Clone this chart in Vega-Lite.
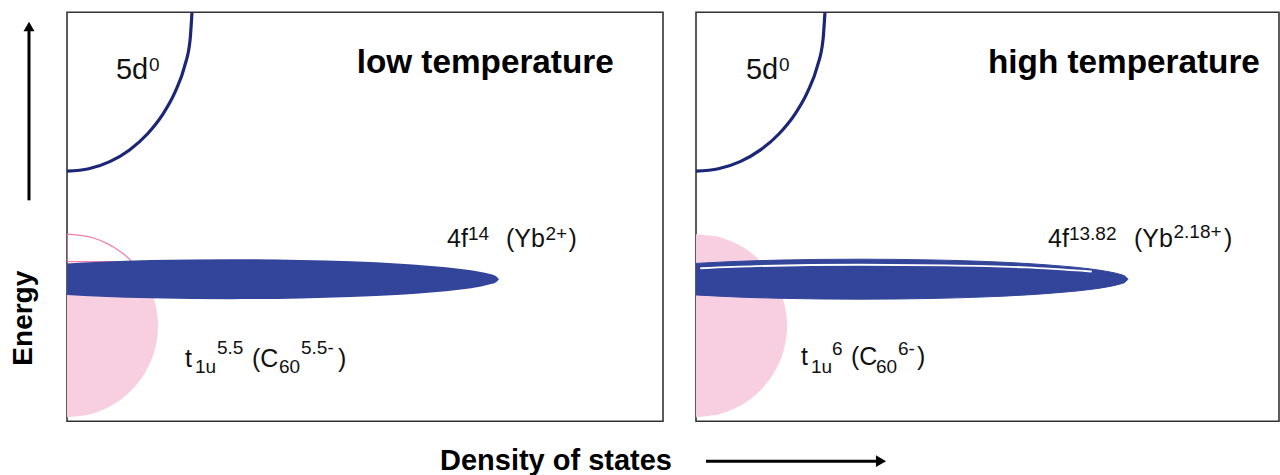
{
  "$schema": "https://vega.github.io/schema/vega-lite/v6.json",
  "background": "white",
  "padding": {"left": 8, "top": 11.2, "right": 0, "bottom": 0},
  "spacing": 33,
  "bounds": "flush",
  "config": {
    "view": {"stroke": "#333333", "strokeWidth": 1.6},
    "font": "Liberation Sans"
  },
  "datasets": {
    "curve": [
      {"panel": "L", "d": 0, "e": 61.12},
      {"panel": "L", "d": 3.64, "e": 61.71},
      {"panel": "L", "d": 7.17, "e": 63.46},
      {"panel": "L", "d": 10.49, "e": 66.33},
      {"panel": "L", "d": 13.48, "e": 70.22},
      {"panel": "L", "d": 16.06, "e": 75.01},
      {"panel": "L", "d": 18.16, "e": 80.56},
      {"panel": "L", "d": 19.71, "e": 86.7},
      {"panel": "L", "d": 20.65, "e": 93.25},
      {"panel": "L", "d": 20.97, "e": 100},
      {"panel": "R", "d": 0, "e": 61.12},
      {"panel": "R", "d": 3.76, "e": 61.71},
      {"panel": "R", "d": 7.4, "e": 63.46},
      {"panel": "R", "d": 10.82, "e": 66.33},
      {"panel": "R", "d": 13.91, "e": 70.22},
      {"panel": "R", "d": 16.58, "e": 75.01},
      {"panel": "R", "d": 18.74, "e": 80.56},
      {"panel": "R", "d": 20.34, "e": 86.7},
      {"panel": "R", "d": 21.31, "e": 93.25},
      {"panel": "R", "d": 21.64, "e": 100}
    ],
    "band": [
      {"d": 0, "e": 30.86, "e2": 38.58},
      {"d": 5.7, "e": 30.44, "e2": 39.0},
      {"d": 14.09, "e": 30.05, "e2": 39.39},
      {"d": 27.52, "e": 29.83, "e2": 39.61},
      {"d": 39.26, "e": 30.0, "e2": 39.44},
      {"d": 47.65, "e": 30.34, "e2": 39.1},
      {"d": 56.04, "e": 30.93, "e2": 38.51},
      {"d": 61.07, "e": 31.47, "e2": 37.97},
      {"d": 66.11, "e": 32.2, "e2": 37.24},
      {"d": 69.46, "e": 32.96, "e2": 36.48},
      {"d": 71.14, "e": 33.53, "e2": 35.91},
      {"d": 71.98, "e": 33.99, "e2": 35.45},
      {"d": 72.48, "e": 34.72, "e2": 34.72}
    ],
    "t1u": [
      {"e": 0.98, "d": 0},
      {"e": 1.43, "d": 3.04},
      {"e": 2.1, "d": 4.77},
      {"e": 3.22, "d": 6.66},
      {"e": 5.45, "d": 9.16},
      {"e": 7.69, "d": 10.9},
      {"e": 9.93, "d": 12.22},
      {"e": 14.4, "d": 13.99},
      {"e": 18.88, "d": 14.96},
      {"e": 23.35, "d": 15.27},
      {"e": 27.82, "d": 14.96},
      {"e": 32.3, "d": 13.99},
      {"e": 36.77, "d": 12.22},
      {"e": 39.01, "d": 10.9},
      {"e": 41.25, "d": 9.16},
      {"e": 43.48, "d": 6.66},
      {"e": 44.6, "d": 4.77},
      {"e": 45.27, "d": 3.04},
      {"e": 45.72, "d": 0}
    ],
    "gap": [
      {"d": 0.84, "e": 37.4},
      {"d": 10.07, "e": 37.9},
      {"d": 27.52, "e": 38.25},
      {"d": 41.95, "e": 38.1},
      {"d": 55.37, "e": 37.6},
      {"d": 66.28, "e": 36.6}
    ],
    "arrows": [
      {"panel": "L", "d": -6.38, "e": 54.0, "e2": 96.48},
      {"panel": "R", "d": 1.68, "d2": 31.04, "e": -9.78}
    ],
    "heads": [
      {"panel": "L", "d": -6.38, "e": 96.48},
      {"panel": "R", "d": 31.04, "e": -9.78}
    ],
    "labels": [
      {"panel": "L", "part": "head", "txt": "low temperature", "d": 48.6, "e": 85.09},
      {"panel": "L", "part": "big", "txt": "5d", "d": 8.22, "e": 83.62},
      {"panel": "L", "part": "sup", "txt": "0", "d": 13.76, "e": 85.57},
      {"panel": "L", "part": "base", "txt": "4f", "d": 63.76, "e": 42.54},
      {"panel": "L", "part": "sup", "txt": "14", "d": 67.28, "e": 44.25},
      {"panel": "L", "part": "base", "txt": "(Yb", "d": 73.66, "e": 42.54},
      {"panel": "L", "part": "sup", "txt": "2+", "d": 80.29, "e": 44.25},
      {"panel": "L", "part": "base", "txt": ")", "d": 84.14, "e": 42.54},
      {"panel": "L", "part": "base", "txt": "t", "d": 19.8, "e": 13.33},
      {"panel": "L", "part": "sub", "txt": "1u", "d": 21.48, "e": 11.74},
      {"panel": "L", "part": "sup", "txt": "5.5", "d": 25.17, "e": 16.5},
      {"panel": "L", "part": "base", "txt": "(C", "d": 31.04, "e": 13.33},
      {"panel": "L", "part": "sub", "txt": "60", "d": 35.57, "e": 11.74},
      {"panel": "L", "part": "sup", "txt": "5.5-", "d": 39.26, "e": 16.5},
      {"panel": "L", "part": "base", "txt": ")", "d": 45.47, "e": 13.33},
      {"panel": "R", "part": "head", "txt": "high temperature", "d": 49.0, "e": 85.21},
      {"panel": "R", "part": "big", "txt": "5d", "d": 8.39, "e": 83.62},
      {"panel": "R", "part": "sup", "txt": "0", "d": 13.93, "e": 85.57},
      {"panel": "R", "part": "base", "txt": "4f", "d": 59.06, "e": 42.54},
      {"panel": "R", "part": "sup", "txt": "13.82", "d": 62.58, "e": 44.25},
      {"panel": "R", "part": "base", "txt": "(Yb", "d": 73.49, "e": 42.54},
      {"panel": "R", "part": "sup", "txt": "2.18+", "d": 80.12, "e": 44.87},
      {"panel": "R", "part": "base", "txt": ")", "d": 88.59, "e": 42.54},
      {"panel": "R", "part": "base", "txt": "t", "d": 17.62, "e": 13.69},
      {"panel": "R", "part": "sub", "txt": "1u", "d": 19.3, "e": 11.86},
      {"panel": "R", "part": "sup", "txt": "6", "d": 22.82, "e": 16.14},
      {"panel": "R", "part": "base", "txt": "(C", "d": 26.01, "e": 13.69},
      {"panel": "R", "part": "sub", "txt": "60", "d": 30.2, "e": 11.86},
      {"panel": "R", "part": "sup", "txt": "6-", "d": 33.89, "e": 16.14},
      {"panel": "R", "part": "base", "txt": ")", "d": 37.08, "e": 13.69}
    ]
  },
  "hconcat": [
    {
      "width": 596,
      "height": 409,
      "encoding": {
        "x": {
          "field": "d", "type": "quantitative",
          "scale": {"domain": [0, 100], "nice": false, "zero": false},
          "axis": {
            "title": "Density of states", "grid": false, "ticks": false, "labels": false, "domain": false,
            "titleFontSize": 29, "titleFontWeight": "bold", "titleColor": "#000000", "titleFont": "Liberation Sans",
            "titleX": 488.5, "titleY": 48, "titleAlign": "center", "titleBaseline": "alphabetic"
          }
        },
        "y": {
          "field": "e", "type": "quantitative",
          "scale": {"domain": [0, 100], "nice": false, "zero": false},
          "axis": {
            "title": "Energy", "grid": false, "ticks": false, "labels": false, "domain": false,
            "titleFontSize": 28, "titleFontWeight": "bold", "titleColor": "#000000", "titleFont": "Liberation Sans",
            "titleX": -30, "titleY": 305.5, "titleAngle": 270, "titleAlign": "center", "titleBaseline": "bottom"
          }
        }
      },
      "layer": [
        {
          "data": {"name": "t1u"},
          "transform": [{"filter": "datum.e <= 37"}],
          "mark": {"type": "area", "orient": "horizontal", "color": "#f8cfe1", "interpolate": "monotone", "clip": true}
        },
        {
          "data": {"name": "t1u"},
          "transform": [{"filter": "datum.e >= 39"}],
          "mark": {"type": "area", "orient": "horizontal", "fill": "white", "fillOpacity": 0, "stroke": "#ee7fae", "strokeWidth": 1.2, "interpolate": "monotone", "clip": true}
        },
        {
          "data": {"name": "band"},
          "mark": {"type": "area", "color": "#33459a", "interpolate": "monotone", "clip": true},
          "encoding": {"y2": {"field": "e2"}}
        },
        {
          "data": {"name": "curve"},
          "transform": [{"filter": "datum.panel === 'L'"}],
          "mark": {"type": "line", "color": "#1c2677", "strokeWidth": 3.2, "interpolate": "monotone", "clip": true}
        },
        {
          "data": {"name": "arrows"},
          "transform": [{"filter": "datum.panel === 'L'"}],
          "mark": {"type": "rule", "color": "#000000", "strokeWidth": 3, "clip": false},
          "encoding": {"y2": {"field": "e2"}}
        },
        {
          "data": {"name": "heads"},
          "transform": [{"filter": "datum.panel === 'L'"}],
          "mark": {"type": "point", "shape": "triangle-up", "filled": true, "color": "#000000", "opacity": 1, "size": 120, "clip": false}
        },
        {
          "data": {"name": "labels"},
          "transform": [{"filter": "datum.panel === 'L' && datum.part === 'head'"}],
          "mark": {"type": "text", "align": "left", "baseline": "alphabetic", "fontSize": 33.3, "fontWeight": "bold", "color": "#000000"},
          "encoding": {"text": {"field": "txt"}}
        },
        {
          "data": {"name": "labels"},
          "transform": [{"filter": "datum.panel === 'L' && datum.part === 'big'"}],
          "mark": {"type": "text", "align": "left", "baseline": "alphabetic", "fontSize": 29, "color": "#111111"},
          "encoding": {"text": {"field": "txt"}}
        },
        {
          "data": {"name": "labels"},
          "transform": [{"filter": "datum.panel === 'L' && datum.part === 'base'"}],
          "mark": {"type": "text", "align": "left", "baseline": "alphabetic", "fontSize": 25, "color": "#111111"},
          "encoding": {"text": {"field": "txt"}}
        },
        {
          "data": {"name": "labels"},
          "transform": [{"filter": "datum.panel === 'L' && (datum.part === 'sup' || datum.part === 'sub')"}],
          "mark": {"type": "text", "align": "left", "baseline": "alphabetic", "fontSize": 19, "color": "#111111"},
          "encoding": {"text": {"field": "txt"}}
        }
      ]
    },
    {
      "width": 583,
      "height": 409,
      "encoding": {
        "x": {
          "field": "d", "type": "quantitative",
          "scale": {"domain": [0, 97.82], "nice": false, "zero": false},
          "axis": null
        },
        "y": {
          "field": "e", "type": "quantitative",
          "scale": {"domain": [0, 100], "nice": false, "zero": false},
          "axis": null
        }
      },
      "layer": [
        {
          "data": {"name": "t1u"},
          "mark": {"type": "area", "orient": "horizontal", "color": "#f8cfe1", "interpolate": "monotone", "clip": true}
        },
        {
          "data": {"name": "band"},
          "mark": {"type": "area", "color": "#33459a", "stroke": "#33459a", "strokeWidth": 1, "interpolate": "monotone", "clip": true},
          "encoding": {"y2": {"field": "e2"}}
        },
        {
          "data": {"name": "gap"},
          "mark": {"type": "line", "color": "#ffffff", "strokeWidth": 1.8, "strokeCap": "round", "interpolate": "monotone", "clip": true}
        },
        {
          "data": {"name": "curve"},
          "transform": [{"filter": "datum.panel === 'R'"}],
          "mark": {"type": "line", "color": "#1c2677", "strokeWidth": 3.2, "interpolate": "monotone", "clip": true}
        },
        {
          "data": {"name": "arrows"},
          "transform": [{"filter": "datum.panel === 'R'"}],
          "mark": {"type": "rule", "color": "#000000", "strokeWidth": 3, "clip": false},
          "encoding": {"x2": {"field": "d2"}}
        },
        {
          "data": {"name": "heads"},
          "transform": [{"filter": "datum.panel === 'R'"}],
          "mark": {"type": "point", "shape": "triangle-right", "filled": true, "color": "#000000", "opacity": 1, "size": 137, "clip": false}
        },
        {
          "data": {"name": "labels"},
          "transform": [{"filter": "datum.panel === 'R' && datum.part === 'head'"}],
          "mark": {"type": "text", "align": "left", "baseline": "alphabetic", "fontSize": 33.3, "fontWeight": "bold", "color": "#000000"},
          "encoding": {"text": {"field": "txt"}}
        },
        {
          "data": {"name": "labels"},
          "transform": [{"filter": "datum.panel === 'R' && datum.part === 'big'"}],
          "mark": {"type": "text", "align": "left", "baseline": "alphabetic", "fontSize": 29, "color": "#111111"},
          "encoding": {"text": {"field": "txt"}}
        },
        {
          "data": {"name": "labels"},
          "transform": [{"filter": "datum.panel === 'R' && datum.part === 'base'"}],
          "mark": {"type": "text", "align": "left", "baseline": "alphabetic", "fontSize": 25, "color": "#111111"},
          "encoding": {"text": {"field": "txt"}}
        },
        {
          "data": {"name": "labels"},
          "transform": [{"filter": "datum.panel === 'R' && (datum.part === 'sup' || datum.part === 'sub')"}],
          "mark": {"type": "text", "align": "left", "baseline": "alphabetic", "fontSize": 19, "color": "#111111"},
          "encoding": {"text": {"field": "txt"}}
        }
      ]
    }
  ]
}
